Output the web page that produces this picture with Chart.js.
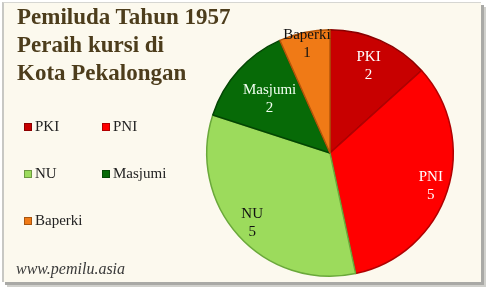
<!DOCTYPE html>
<html>
<head>
<meta charset="utf-8">
<script src="https://cdn.jsdelivr.net/npm/chart.js@4"></script>
<style>
    html, body { margin: 0; padding: 0; background: #ffffff; }
    #wrap {
        position: relative;
        width: 486px;
        height: 292px;
        overflow: hidden;
    }
    #panel {
        position: absolute;
        left: 2px;
        top: 2px;
        width: 477px;
        height: 279px;
        background: #fcf9ee;
        border-left: 2px solid #c8c8c4;
        border-top: 1px solid #d6d6d2;
        box-shadow: 3px 3px 0 #a9a9a6, 5px 5px 0 #d0d0cc;
    }
    canvas { position: absolute; left: 0; top: 0; }
    #title {
        position: absolute;
        left: 17px;
        top: 3px;
        font-family: "Liberation Serif", serif;
        font-weight: bold;
        font-size: 23px;
        line-height: 28px;
        color: #4d3d1c;
    }
    #legend {
        position: absolute;
        left: 24px;
        top: 118px;
        font-family: "Liberation Serif", serif;
        font-size: 15px;
        color: #222;
    }
    .item {
        position: absolute;
        white-space: nowrap;
        display: flex;
        align-items: center;
    }
    .box {
        width: 8px;
        height: 8px;
        margin-right: 3px;
        box-shadow: inset 0 0 0 1px rgba(0,0,0,0.3);
    }
    #site {
        position: absolute;
        left: 16px;
        top: 260px;
        font-family: "Liberation Serif", serif;
        font-style: italic;
        font-size: 16px;
        color: #3a3a3a;
    }
</style>
</head>
<body>
<div id="wrap">
    <div id="panel"></div>
    <canvas id="pie" width="486" height="292"></canvas>
    <div id="title">Pemiluda Tahun 1957<br>Peraih kursi di<br>Kota Pekalongan</div>
    <div id="legend"></div>
    <div id="site">www.pemilu.asia</div>
</div>
<script>
const parties = ["PKI", "PNI", "NU", "Masjumi", "Baperki"];
const seats = [2, 5, 5, 2, 1];
const sliceColors = ["#c80000", "#ff0000", "#9cdb5c", "#076a07", "#f07a16"];
const edgeColors = ["#8a0000", "#b00000", "#6aa83a", "#034503", "#b55508"];
const labelColors = ["#ffffff", "#ffffff", "#111111", "#f2fff2", "#111111"];

// legend in two columns, built from the same arrays
const legendBox = document.getElementById("legend");
parties.forEach((name, i) => {
    const item = document.createElement("div");
    item.className = "item";
    item.style.left = (i % 2) * 78 + "px";
    item.style.top = Math.floor(i / 2) * 47 + "px";
    const box = document.createElement("span");
    box.className = "box";
    box.style.background = sliceColors[i];
    item.appendChild(box);
    item.appendChild(document.createTextNode(name));
    legendBox.appendChild(item);
});

// name + value written on each slice
const sliceLabels = {
    id: "sliceLabels",
    afterDatasetsDraw(chart, args, opts) {
        const ctx = chart.ctx;
        const meta = chart.getDatasetMeta(0);
        ctx.save();
        ctx.font = "15px 'Liberation Serif', serif";
        ctx.textAlign = "center";
        ctx.textBaseline = "middle";
        meta.data.forEach((arc, i) => {
            const p = arc.getProps(["x", "y", "startAngle", "endAngle", "outerRadius"], true);
            const mid = (p.startAngle + p.endAngle) / 2;
            const k = (opts.radius && opts.radius[i]) || 0.8;
            const x = p.x + Math.cos(mid) * p.outerRadius * k;
            const y = p.y + Math.sin(mid) * p.outerRadius * k;
            ctx.fillStyle = labelColors[i];
            ctx.fillText(parties[i], x, y - 9);
            ctx.fillText(String(seats[i]), x, y + 9);
        });
        ctx.restore();
    }
};

new Chart(document.getElementById("pie"), {
    type: "pie",
    data: {
        labels: parties,
        datasets: [{
            data: seats,
            backgroundColor: sliceColors,
            borderColor: edgeColors,
            borderWidth: 1.5
        }]
    },
    options: {
        responsive: false,
        animation: false,
        layout: { padding: { left: 206, right: 32, top: 29, bottom: 15 } },
        plugins: {
            legend: { display: false },
            tooltip: { enabled: false },
            sliceLabels: { radius: [0.77, 0.86, 0.85, 0.66, 0.9] }
        }
    },
    plugins: [sliceLabels]
});
</script>
</body>
</html>
